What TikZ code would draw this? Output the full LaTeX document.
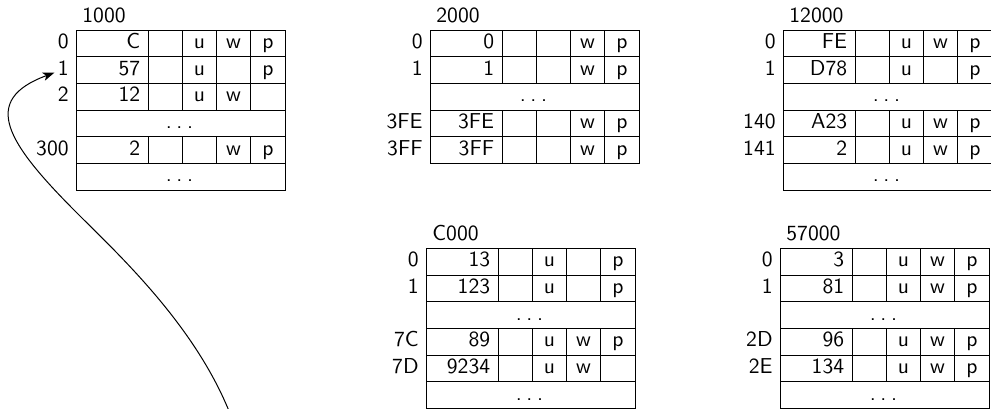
\documentclass[tikz,border=0pt]{standalone}
\usetikzlibrary{arrows.meta}
\newcommand{\tblfont}{\fontsize{10.8}{13}\selectfont\sffamily}
\newcommand{\wdots}{.\kern2.3pt.\kern2.3pt.}
\tikzset{
  cellline/.style={draw=black, line width=0.5pt},
  rowlab/.style={anchor=base east, inner sep=1.5pt, font=\tblfont},
  valtxt/.style={anchor=base east, inner sep=0pt, font=\tblfont},
  flagtxt/.style={anchor=base, inner sep=0pt, font=\tblfont},
  ttl/.style={anchor=base west, inner sep=0pt, font=\tblfont},
  ptr/.style={-{Stealth[length=5.8pt,width=4.2pt,inset=1.5pt]}, line width=0.5pt}
}
% #1 name, #2 left x, #3 top y, #4 label, #5 value, #6 u, #7 w, #8 p
\newcommand{\PRow}[8]{%
  \draw[cellline] (#2,#3) rectangle ++(209,26.7);
  \foreach \cx in {72,106.25,140.5,174.75}{\draw[cellline] (#2+\cx,#3) -- ++(0,26.7);}
  \node[rowlab] (#1l) at (#2-4,#3+18.3) {#4};
  \node[valtxt] (#1v) at (#2+64.5,#3+18.3) {#5};
  \node[flagtxt] (#1u) at (#2+123.4,#3+18.3) {#6};
  \node[flagtxt] (#1w) at (#2+157.6,#3+18.3) {#7};
  \node[flagtxt] (#1p) at (#2+191.9,#3+18.3) {#8};
}
\newcommand{\DRow}[3]{%
  \draw[cellline] (#2,#3) rectangle ++(209,26.7);
  \node[flagtxt] (#1) at (#2+103.5,#3+18.3) {\wdots};
}
\begin{document}
\begin{tikzpicture}[x=0.5pt,y=-0.5pt]
\useasboundingbox (0,0) rectangle (991,408);
% table 1000
\node[ttl] (t1title) at (82,22.5) {1000};
\PRow{t1a}{76}{30}{0}{C}{u}{w}{p}
\PRow{t1b}{76}{56.7}{1}{57}{u}{}{p}
\PRow{t1c}{76}{83.4}{2}{12}{u}{w}{}
\DRow{t1d}{76}{110.1}
\PRow{t1e}{76}{136.8}{300}{2}{}{w}{p}
\DRow{t1f}{76}{163.5}
% table 2000
\node[ttl] (t2title) at (436,22.5) {2000};
\PRow{t2a}{430}{30}{0}{0}{}{w}{p}
\PRow{t2b}{430}{56.7}{1}{1}{}{w}{p}
\DRow{t2c}{430}{83.4}
\PRow{t2d}{430}{110.1}{3FE}{3FE}{}{w}{p}
\PRow{t2e}{430}{136.8}{3FF}{3FF}{}{w}{p}
% table 12000
\node[ttl] (t3title) at (789,22.5) {12000};
\PRow{t3a}{783}{30}{0}{FE}{u}{w}{p}
\PRow{t3b}{783}{56.7}{1}{D78}{u}{}{p}
\DRow{t3c}{783}{83.4}
\PRow{t3d}{783}{110.1}{140}{A23}{u}{w}{p}
\PRow{t3e}{783}{136.8}{141}{2}{u}{w}{p}
\DRow{t3f}{783}{163.5}
% table C000
\node[ttl] (t4title) at (432,240.5) {C000};
\PRow{t4a}{426}{248.3}{0}{13}{u}{}{p}
\PRow{t4b}{426}{275}{1}{123}{u}{}{p}
\DRow{t4c}{426}{301.7}
\PRow{t4d}{426}{328.4}{7C}{89}{u}{w}{p}
\PRow{t4e}{426}{355.1}{7D}{9234}{u}{w}{}
\DRow{t4f}{426}{381.8}
% table 57000
\node[ttl] (t5title) at (786,240.5) {57000};
\PRow{t5a}{780}{248.3}{0}{3}{u}{w}{p}
\PRow{t5b}{780}{275}{1}{81}{u}{w}{p}
\DRow{t5c}{780}{301.7}
\PRow{t5d}{780}{328.4}{2D}{96}{u}{w}{p}
\PRow{t5e}{780}{355.1}{2E}{134}{u}{w}{p}
\DRow{t5f}{780}{381.8}
% pointer
\coordinate (ptrsrc) at (231,416);
\draw[ptr] (ptrsrc) .. controls (196,326) and (119,255) .. (77,213)
  .. controls (6,142) and (-20,100) .. ([yshift=-2.5pt]t1bl.west);
\end{tikzpicture}
\end{document}
